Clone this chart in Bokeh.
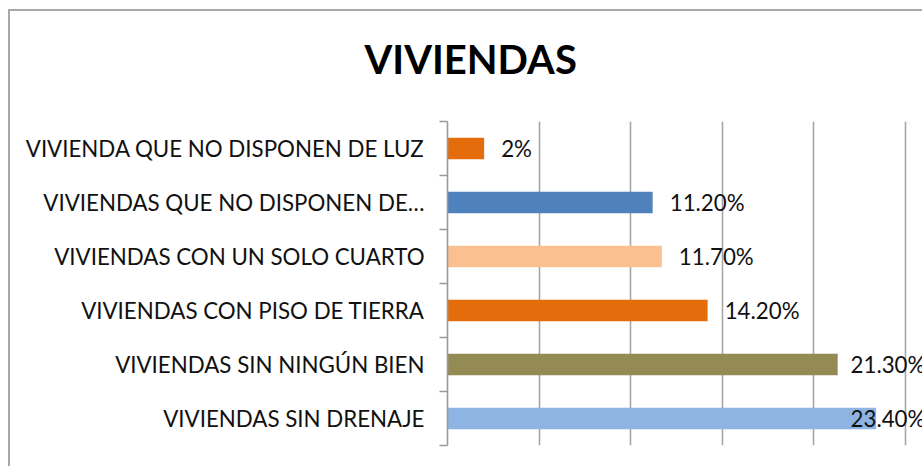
from bokeh.plotting import figure
from bokeh.models import Range1d, FixedTicker, Grid, ColumnDataSource, LinearAxis, Title
from bokeh.core.properties import value
from bokeh.embed import file_html
from bokeh.resources import INLINE

# ---- data (top to bottom) ----
categories = [
    "VIVIENDA QUE NO DISPONEN DE LUZ",
    "VIVIENDAS QUE NO DISPONEN DE\u2026",
    "VIVIENDAS CON UN SOLO CUARTO",
    "VIVIENDAS CON PISO DE TIERRA",
    "VIVIENDAS SIN NING\u00daN BIEN",
    "VIVIENDAS SIN DRENAJE",
]
values = [2.0, 11.2, 11.7, 14.2, 21.3, 23.4]
value_labels = ["2%", "11.20%", "11.70%", "14.20%", "21.30%", "23.40%"]
colors = ["#E46C0A", "#4F81BD", "#FAC090", "#E46C0A", "#948A54", "#8DB4E2"]
grid_ticks = [0, 5, 10, 15, 20, 25]
title_text = "VIVIENDAS"

FONT = "Lato"
FS = "22.3px"
X_END = 26.04
n = len(categories)
ypos = [n - i - 0.5 for i in range(n)]

gap = 0.93
lab_x, lab_align = [], []
for v, lab in zip(values, value_labels):
    est_w = len(lab) * 0.7
    if v + gap + est_w > X_END:
        lab_x.append(X_END + 0.05)
        lab_align.append("right")
    else:
        lab_x.append(v + gap)
        lab_align.append("left")

src = ColumnDataSource(dict(y=ypos, v=values, c=colors, lx=lab_x, la=lab_align, lab=value_labels))

p = figure(width=914, height=457, output_backend="svg", toolbar_location=None,
           x_range=Range1d(0, X_END), y_range=Range1d(0, n),
           x_axis_location=None, y_axis_location=None,
           min_border_left=437, min_border_right=0, min_border_top=110, min_border_bottom=23)
p.center = [r for r in p.center if not isinstance(r, Grid)]
p.outline_line_color = None
p.background_fill_color = "white"
p.border_fill_color = "white"
p.styles = {"margin-left": "8px", "margin-top": "9px",
            "border-top": "2px solid #a8a8a8", "border-left": "2px solid #a8a8a8"}

# vertical gridlines
p.add_layout(Grid(dimension=0, ticker=FixedTicker(ticks=grid_ticks),
                  grid_line_color="#a6a6a6", grid_line_width=1.6))

# y axis with labels at centers, ticks at category boundaries
yaxis = LinearAxis(ticker=FixedTicker(ticks=ypos, minor_ticks=list(range(n + 1))))
yaxis.major_label_overrides = {y: c for y, c in zip(ypos, categories)}
yaxis.major_tick_line_color = None
yaxis.major_tick_in = 0
yaxis.major_tick_out = 0
yaxis.minor_tick_in = 0
yaxis.minor_tick_out = 8
yaxis.minor_tick_line_color = "#9a9a9a"
yaxis.minor_tick_line_width = 1.6
yaxis.axis_line_color = "#9a9a9a"
yaxis.axis_line_width = 1.6
yaxis.major_label_text_font = FONT
yaxis.major_label_text_font_size = FS
yaxis.major_label_text_color = "#111111"
yaxis.major_label_standoff = 15
p.add_layout(yaxis, "left")

p.hbar(y="y", right="v", left=0, height=0.4, fill_color="c", line_color=None, source=src)
p.text(x="lx", y="y", text="lab", text_align="la", text_baseline="middle",
       text_font=value(FONT), text_font_size=FS, text_color="#111111", source=src)

# blank spacer panel between the frame and the title
spacer = Title(text=" ", text_font_size="10px", standoff=26, align="left")
p.add_layout(spacer, "above")

p.title.text = title_text
p.title.text_font = FONT
p.title.text_font_style = "bold"
p.title.text_font_size = "40px"
p.title.align = "left"
p.title.offset = -83
p.title.standoff = 0
p.title.text_color = "#000000"

open("out.html", "w").write(file_html(p, INLINE))
